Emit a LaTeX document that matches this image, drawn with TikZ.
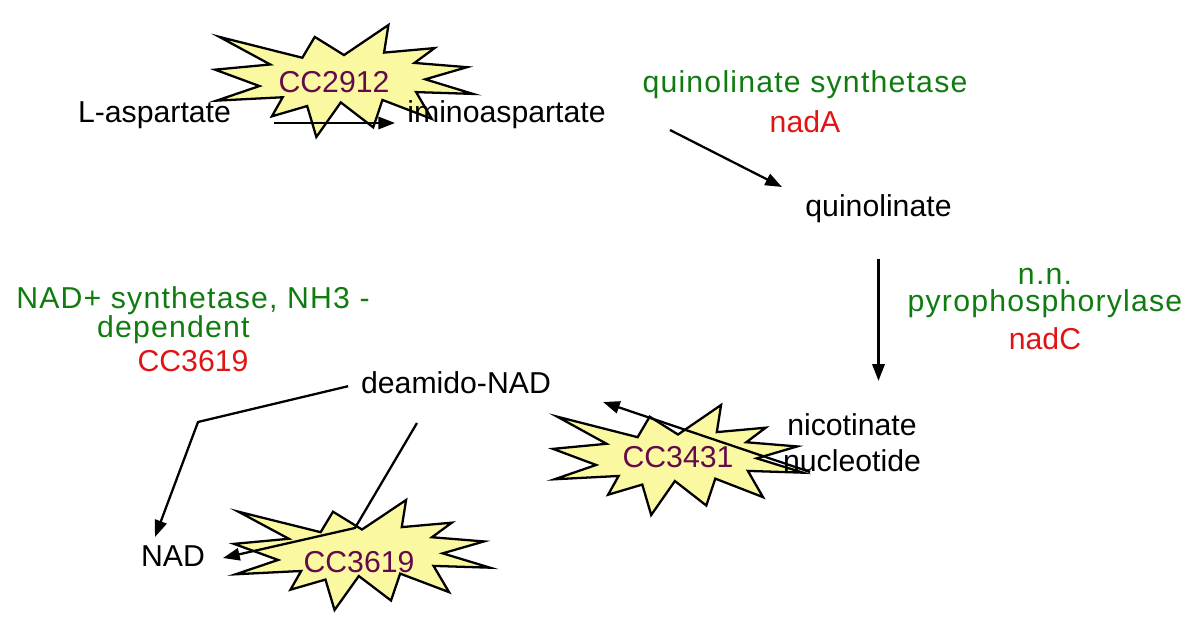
\documentclass[tikz,border=0pt]{standalone}
\usepackage{fontspec}
\setmainfont{Liberation Sans}
\newfontfamily\enzfont[LetterSpace=4]{Liberation Sans}
\usetikzlibrary{arrows.meta}
\definecolor{enzgreen}{RGB}{16,124,16}
\definecolor{genered}{RGB}{225,20,20}
\definecolor{burstfill}{RGB}{250,248,160}
\definecolor{burstpurple}{RGB}{100,10,75}
\tikzset{
    raw label/.style={inner sep=0pt, anchor=base, align=center},
    metabolite/.style={raw label, black, font=\fontsize{17.2}{21}\selectfont},
    enzyme/.style={raw label, enzgreen, font=\enzfont\fontsize{17.2}{15.5}\selectfont},
    gene/.style={raw label, genered, font=\fontsize{17.2}{21}\selectfont},
    burst/.style={draw=black, line width=1.3pt, fill=burstfill},
    burst label/.style={raw label, burstpurple, font=\fontsize{17.2}{21}\selectfont},
    flow/.style={->, line width=1.3pt}
}
\newcommand{\burst}[4]{%
    \begin{scope}[shift={(#1,#2)}, xscale=#3/100, yscale=#4/100]
        \draw[burst] (50,26.85) -- (67.23,0) -- (65.53,24.65) -- (85.09,20.63) -- (77.32,33.87)
            -- (97.67,37.67) -- (81.51,48.50) -- (100,61.53) -- (77.95,59.92) -- (84,83.77)
            -- (64.91,66.93) -- (61.33,91.38) -- (48.76,69.14) -- (39.28,100) -- (35.72,72.35)
            -- (22.05,81.56) -- (26.24,64.52) -- (0.63,67.53) -- (17.23,54.51) -- (0,39.88)
            -- (21.42,35.26) -- (1.71,10.63) -- (33.85,29.26) -- (38.67,10.63) -- cycle;
    \end{scope}}

\begin{document}
\begin{tikzpicture}[x=0.02cm, y=-0.02cm, >={Triangle[length=9.5pt,width=7pt]}]
    \useasboundingbox[fill=white] (0,0) rectangle (1198,634);
    \burst{215}{25}{258}{112}
    \burst{553}{405}{250}{110}
    \burst{234}{500}{256}{110}

    \node[metabolite] (lasp) at (154.5,123) {L-aspartate};
    \node[metabolite] (imino) at (506.5,123) {iminoaspartate};
    \node[enzyme] (qsyn) at (805,93) {quinolinate synthetase};
    \node[gene] (nadA) at (805,133) {nadA};
    \node[metabolite] (quin) at (878.5,217) {quinolinate};
    \node[enzyme] (nnpp) at (1045,312) {n.n.\\pyrophosphorylase};
    \node[gene] (nadC) at (1045,350) {nadC};
    \node[metabolite] (nicot) at (852,472) {nicotinate\\nucleotide};
    \node[metabolite] (deamido) at (456,394) {deamido-NAD};
    \node[enzyme] (nadsyn) at (193,338) {NAD+ synthetase, NH3 -\\dependent\hspace*{1.3em}};
    \node[gene] (cc3619) at (193,372) {CC3619};
    \node[metabolite] (nad) at (173,567) {NAD};

    \coordinate (synthIn) at (670,130);
    \coordinate (synthOut) at (782,187);
    \coordinate (prtIn) at (810,472);
    \coordinate (prtOut) at (603,402);
    \coordinate (ligBend) at (198,422);
    \coordinate (ligOut) at (155,537);
    \coordinate (amidIn) at (417,423);
    \coordinate (amidBend) at (355,528);
    \coordinate (amidOut) at (223,558);

    \draw[flow, shorten <=0.86cm, shorten >=0.24cm] (lasp.base east) -- (imino.base west);
    \draw[flow] (synthIn) -- (synthOut);
    \draw[flow, shorten <=0.7cm, shorten >=0.64cm] (quin.south) -- (quin.south |- nicot.north);
    \draw[flow] (prtIn) -- (prtOut);
    \draw[flow, shorten <=0.26cm] (deamido.west) -- (ligBend) -- (ligOut);
    \draw[flow] (amidIn) -- (amidBend) -- (amidOut);

    \node[burst label] (e2912) at (334,93) {CC2912};
    \node[burst label] (e3431) at (678,468) {CC3431};
    \node[burst label] (e3619) at (359,573) {CC3619};
\end{tikzpicture}
\end{document}
